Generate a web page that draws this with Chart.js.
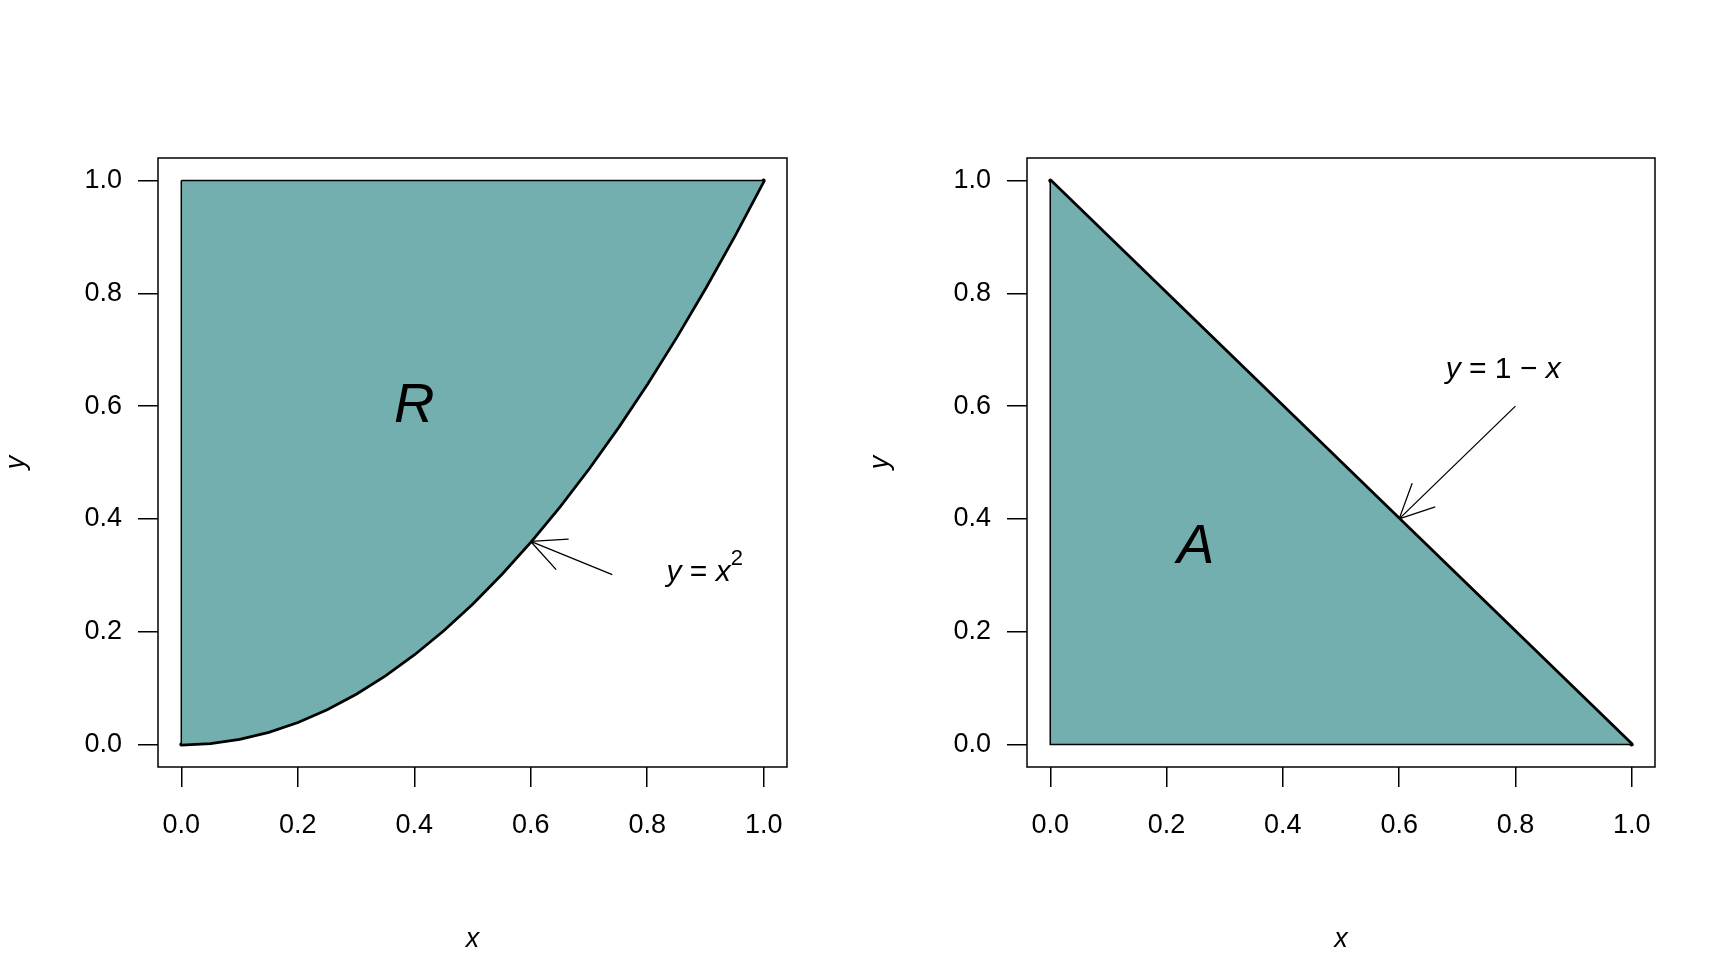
<!DOCTYPE html>
<html>
<head>
<meta charset="utf-8">
<script src="https://cdn.jsdelivr.net/npm/chart.js@4/dist/chart.umd.min.js"></script>
<style>
  body { margin: 0; background: #fff; }
  .wrap { position: absolute; top: 0; width: 864px; height: 960px; }
</style>
</head>
<body>
<div class="wrap" style="left:0"><canvas id="left"></canvas></div>
<div class="wrap" style="left:864px"><canvas id="right"></canvas></div>
<script>
// curve y = x^2, read as points
const curveX = [0, 0.05, 0.1, 0.15, 0.2, 0.25, 0.3, 0.35, 0.4, 0.45, 0.5, 0.55, 0.6, 0.65, 0.7, 0.75, 0.8, 0.85, 0.9, 0.95, 1];
const curveY = [0, 0.0025, 0.01, 0.0225, 0.04, 0.0625, 0.09, 0.1225, 0.16, 0.2025, 0.25, 0.3025, 0.36, 0.4225, 0.49, 0.5625, 0.64, 0.7225, 0.81, 0.9025, 1];
// line y = 1 - x
const lineX = [0, 1];
const lineY = [1, 0];
const tickVals = [0, 0.2, 0.4, 0.6, 0.8, 1.0];

const fillColor = '#72afae';
const font = { family: 'Liberation Sans, Arial, sans-serif', size: 27 };

function pts(xs, ys) { return xs.map((x, i) => ({ x: x, y: ys[i] })); }

function axes(yWidth) {
  const common = {
    type: 'linear', min: -0.04, max: 1.04,
    afterBuildTicks: s => { s.ticks = tickVals.map(v => ({ value: v })); },
    border: { display: false },
    grid: { drawOnChartArea: false, tickLength: 20, color: '#000', lineWidth: 1.5 },
    ticks: { color: '#000', font: font, callback: v => v.toFixed(1) }
  };
  return {
    x: Object.assign({}, common, {
      ticks: Object.assign({}, common.ticks, { padding: 22, maxRotation: 0 }),
      title: { display: true, text: 'x', color: '#000', font: Object.assign({ style: 'italic' }, font), padding: { top: 40 } },
      afterFit: s => { s.height = 193; }
    }),
    y: Object.assign({}, common, {
      ticks: Object.assign({}, common.ticks, { padding: 16 }),
      title: { display: true, text: 'y', color: '#000', font: Object.assign({ style: 'italic' }, font), padding: 0 },
      afterFit: s => { s.width = yWidth; }
    })
  };
}

const decor = {
  id: 'decor',
  afterDraw(chart, args, opts) {
    const c = chart.ctx, a = chart.chartArea;
    const sx = chart.scales.x, sy = chart.scales.y;
    const px = v => sx.getPixelForValue(v), py = v => sy.getPixelForValue(v);
    c.save();
    c.strokeStyle = '#000'; c.lineWidth = 1.5;
    c.strokeRect(a.left, a.top, a.right - a.left, a.bottom - a.top);
    // arrow
    const [x0, y0, x1, y1] = opts.arrow;
    const X0 = px(x0), Y0 = py(y0), X1 = px(x1), Y1 = py(y1);
    c.beginPath(); c.moveTo(X0, Y0); c.lineTo(X1, Y1);
    const ang = Math.atan2(Y1 - Y0, X1 - X0), L = 38;
    [0.45, -0.45].forEach(d => {
      c.moveTo(X1, Y1);
      c.lineTo(X1 - L * Math.cos(ang + d), Y1 - L * Math.sin(ang + d));
    });
    c.lineWidth = 1.3; c.stroke();
    c.fillStyle = '#000';
    c.textBaseline = 'middle';
    // big label
    c.font = 'italic 56px Liberation Sans, Arial, sans-serif';
    c.textAlign = 'center';
    c.fillText(opts.big[0], px(opts.big[1]), py(opts.big[2]));
    // equation label
    c.textAlign = 'left';
    let x = px(opts.eq.x), y = py(opts.eq.y);
    opts.eq.parts.forEach(p => {
      c.font = (p.it ? 'italic ' : '') + (p.sup ? '22px' : '30px') + ' Liberation Sans, Arial, sans-serif';
      c.fillText(p.t, x, p.sup ? y - 14 : y);
      x += c.measureText(p.t).width;
    });
    c.restore();
  }
};

function makeChart(id, yWidth, rightPad, shape, curve, decorOpts) {
  new Chart(document.getElementById(id), {
    type: 'scatter',
    data: {
      datasets: [
        { data: shape, showLine: true, fill: 'shape', backgroundColor: fillColor, borderColor: '#000', borderWidth: 1.5, pointRadius: 0, tension: 0 },
        { data: curve, showLine: true, fill: false, borderColor: '#000', borderWidth: 4, pointRadius: 0, tension: 0, borderCapStyle: 'round' }
      ]
    },
    options: {
      responsive: false, animation: false,
      layout: { padding: { top: 158, right: rightPad, left: 0, bottom: 0 } },
      plugins: { legend: { display: false }, tooltip: { enabled: false }, decor: decorOpts },
      scales: axes(yWidth)
    },
    plugins: [decor]
  });
}

document.getElementById('left').width = 864; document.getElementById('left').height = 960;
document.getElementById('right').width = 864; document.getElementById('right').height = 960;

const leftShape = [{ x: 0, y: 1 }, { x: 0, y: 0 }].concat(pts(curveX, curveY).slice(1), [{ x: 0, y: 1 }]);
makeChart('left', 158, 77, leftShape, pts(curveX, curveY), {
  arrow: [0.74, 0.301, 0.6, 0.36],
  big: ['R', 0.4, 0.6],
  eq: { x: 0.833, y: 0.305, parts: [{ t: 'y', it: true }, { t: ' = ' }, { t: 'x', it: true }, { t: '2', sup: true }] }
});

const rightShape = [{ x: 0, y: 1 }, { x: 0, y: 0 }, { x: 1, y: 0 }, { x: 0, y: 1 }];
makeChart('right', 163, 73, rightShape, pts(lineX, lineY), {
  arrow: [0.8, 0.6, 0.6, 0.4],
  big: ['A', 0.25, 0.35],
  eq: { x: 0.68, y: 0.665, parts: [{ t: 'y', it: true }, { t: ' = 1 \u2212 ' }, { t: 'x', it: true }] }
});
</script>
</body>
</html>
